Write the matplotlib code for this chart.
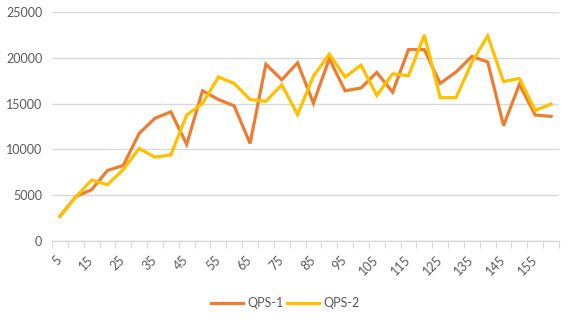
import matplotlib
matplotlib.use("Agg")
import matplotlib.pyplot as plt
import numpy as np

categories = [str(v) for v in range(5, 161, 5)]
qps1 = [2700, 4850, 5600, 7700, 8250, 11750, 13400, 14100, 10550, 16400,
        15450, 14750, 10650, 19300, 17600, 19450, 15050, 19900, 16400, 16700,
        18400, 16250, 20900, 20900, 17200, 18450, 20150, 19550, 12600, 17100,
        13750, 13600]
qps2 = [2700, 4800, 6650, 6150, 7800, 10100, 9150, 9400, 13750, 15000,
        17900, 17200, 15450, 15250, 17050, 13800, 18000, 20400, 17900, 19200,
        15900, 18250, 18050, 22500, 15650, 15650, 19500, 22400, 17400, 17750,
        14250, 14950]
series_names = ["QPS-1", "QPS-2"]
yticks = [0, 5000, 10000, 15000, 20000, 25000]

plt.rcParams['font.family'] = ['Lato', 'DejaVu Sans']
fig = plt.figure(figsize=(5.74, 3.22), dpi=100)
W, H = 574, 322
left, right, top, bottom = 52, 559, 12, 241
ax = fig.add_axes([left / W, 1 - bottom / H, (right - left) / W, (bottom - top) / H])

x = np.arange(len(categories))
ax.plot(x, qps1, color='#ED7D31', lw=2.3, label=series_names[0], solid_joinstyle='miter')
ax.plot(x, qps2, color='#FFC000', lw=2.3, label=series_names[1], solid_joinstyle='miter')

ax.set_xlim(-0.5, len(categories) - 0.5)
ax.set_ylim(0, 25000)
ax.set_yticks(yticks)
ax.set_yticklabels([str(v) for v in yticks])
ax.yaxis.grid(True, color='#D9D9D9', lw=1)
ax.set_axisbelow(True)
ax.tick_params(axis='y', length=0, pad=7, labelsize=9, labelcolor='#595959')

# boundary ticks (no labels)
ax.set_xticks(np.arange(-0.5, len(categories), 1.0))
ax.set_xticklabels([])
ax.tick_params(axis='x', which='major', length=5, color='#D9D9D9', direction='out')
# labels every other category
ax.set_xticks(x[::2], minor=True)
ax.set_xticklabels(categories[::2], minor=True, rotation=45, ha='right', va='center',
                   rotation_mode='anchor')
ax.tick_params(axis='x', which='minor', length=0, pad=12, labelsize=9, labelcolor='#595959')

for s in ['left', 'right', 'top']:
    ax.spines[s].set_visible(False)
ax.spines['bottom'].set_color('#D9D9D9')
ax.spines['bottom'].set_linewidth(1)

fig.legend(loc='center', bbox_to_anchor=(285 / W, 1 - 303 / H), ncol=2, frameon=False,
           fontsize=9, labelcolor='#595959', handlelength=2.6, handletextpad=0.3,
           columnspacing=0.3)

fig.savefig('out.png', dpi=100)
